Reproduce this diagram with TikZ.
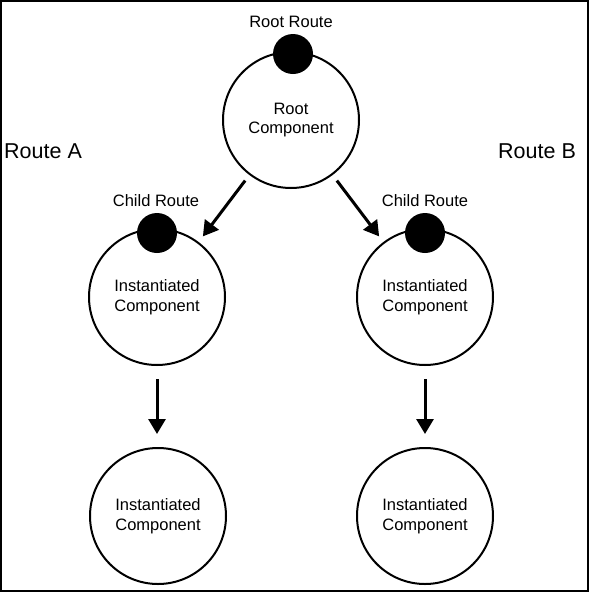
\documentclass[tikz,border=0pt]{standalone}
\usepackage{fontspec}
\setmainfont{Liberation Sans}
\usetikzlibrary{arrows.meta}
\tikzset{
  comp/.style={circle, draw, line width=2pt, minimum size=136pt, inner sep=0pt, outer sep=0pt,
    align=center, font=\fontsize{16.5pt}{19.5pt}\selectfont},
  dot/.style={circle, fill=black, minimum size=40pt, inner sep=0pt, outer sep=0pt},
  lbl/.style={font=\fontsize{16.5pt}{19.5pt}\selectfont, anchor=base, inner sep=0pt},
  routelbl/.style={font=\fontsize{21.5pt}{25pt}\selectfont, inner sep=0pt},
  conn/.style={line width=3pt, -{Triangle[length=15pt,width=17pt]}},
}
\begin{document}
\begin{tikzpicture}[x=1pt,y=-1pt]
\useasboundingbox (0,0) rectangle (589,592);
\draw[line width=2pt] (1,1) rectangle (587.5,590.5);
% root
\node[comp] (root) at (291,120) {Root\\Component};
\node[dot] (rootdot) at (293,54) {};
\node[lbl] (rootlbl) at (291,27) {Root Route};
% children
\node[comp] (ca) at (157,297) {Instantiated\\Component};
\node[dot] (cadot) at (157,233) {};
\node[lbl] (calbl) at (156,206) {Child Route};
\node[comp] (cb) at (425,297) {Instantiated\\Component};
\node[dot] (cbdot) at (425,233) {};
\node[lbl] (cblbl) at (425,206) {Child Route};
% bottom
\node[comp] (ga) at (158,516) {Instantiated\\Component};
\node[comp] (gb) at (425,516) {Instantiated\\Component};
% route labels
\node[routelbl, anchor=base west] (ra) at (4,158) {Route A};
\node[routelbl, anchor=base west] (rb) at (498,158) {Route B};
% connectors
\draw[conn, shorten <=8pt, shorten >=8pt] (root) -- (ca);
\draw[conn, shorten <=8pt, shorten >=8pt] (root) -- (cb);
\draw[conn, shorten <=14pt, shorten >=14pt] (ca) -- (ca |- ga.north);
\draw[conn, shorten <=14pt, shorten >=14pt] (cb) -- (gb);
\end{tikzpicture}
\end{document}
